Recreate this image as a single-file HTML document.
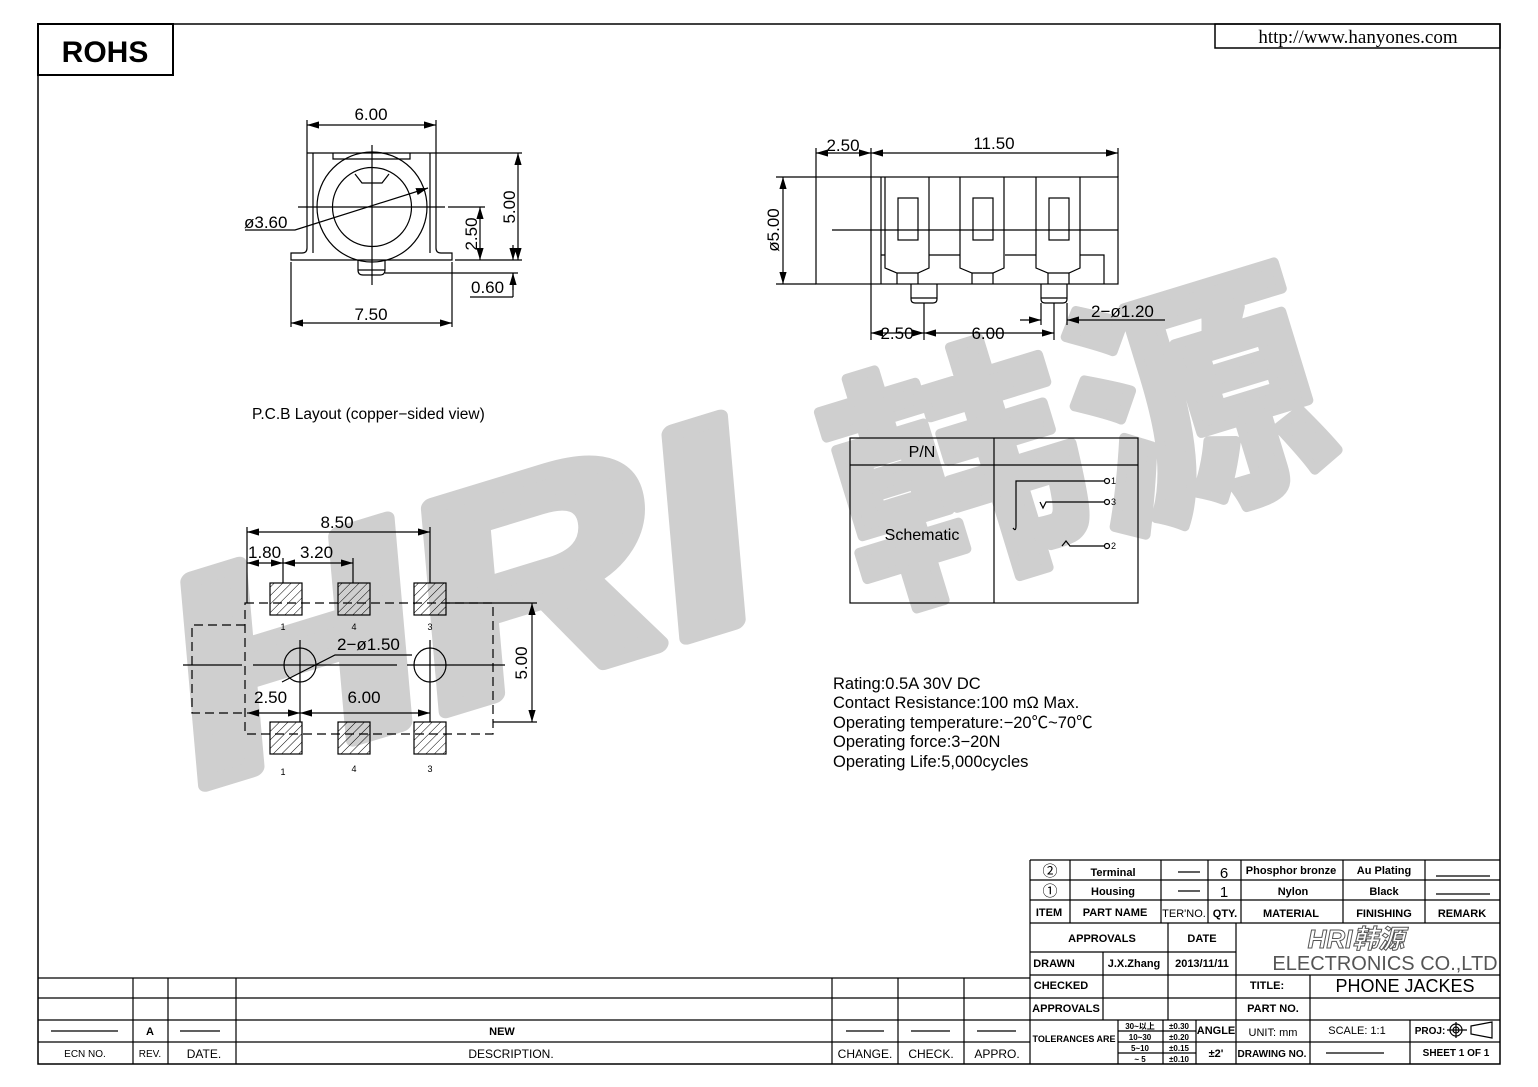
<!DOCTYPE html>
<html><head><meta charset="utf-8"><style>
html,body{margin:0;padding:0;background:#fff}
svg{display:block}
text{font-family:"Liberation Sans","Noto Sans CJK SC",sans-serif;fill:#000}
</style></head><body>
<svg width="1538" height="1087" viewBox="0 0 1538 1087" xmlns="http://www.w3.org/2000/svg">
<defs>
<pattern id="h" width="6" height="6" patternUnits="userSpaceOnUse" patternTransform="rotate(45)">
<line x1="0" y1="0" x2="0" y2="6" stroke="#000" stroke-width="1"/></pattern>
<marker id="a" viewBox="0 0 10 6" refX="10" refY="3" markerWidth="10" markerHeight="6" orient="auto-start-reverse"><path d="M0,0 L10,3 L0,6z" fill="#000"/></marker>
</defs>
<rect width="1538" height="1087" fill="#fff"/>
<g>
<text x="0" y="0" transform="translate(185,790) rotate(-17) skewX(-12)" font-size="290" font-weight="bold" textLength="600" lengthAdjust="spacingAndGlyphs" style="fill:#cfcfcf;stroke:#cfcfcf;stroke-width:16;stroke-linejoin:round">HRI</text>
<text x="0" y="0" transform="translate(865,600) rotate(-17)" font-size="255" font-weight="bold" textLength="500" lengthAdjust="spacingAndGlyphs" style="fill:#cfcfcf;stroke:#cfcfcf;stroke-width:10;stroke-linejoin:round">韩源</text>
</g>
<g stroke="#000" fill="none" stroke-width="1.2">
<rect x="38" y="24" width="1462" height="1040" stroke-width="1.5"/>
<rect x="38" y="24" width="135" height="51" stroke-width="2"/>
<rect x="1215" y="24" width="285" height="24" stroke-width="1.5"/>
<line x1="307" y1="125" x2="436" y2="125" marker-start="url(#a)" marker-end="url(#a)"/>
<line x1="307" y1="120" x2="307" y2="153"/><line x1="436" y1="120" x2="436" y2="153"/>
<path d="M307,153 V248 Q307,253 302,253 H291 V260 H452 V253 H441 Q436,253 436,248 V153 H307"/>
<line x1="313" y1="153" x2="313" y2="253"/><line x1="430" y1="153" x2="430" y2="253"/>
<path d="M333,153 V159 H410 V153"/>
<circle cx="372" cy="207" r="55"/><circle cx="372" cy="207" r="39.5"/>
<path d="M355,174 L362,183 H382 L389,174"/>
<line x1="372" y1="145" x2="372" y2="285"/><line x1="298" y1="207" x2="445" y2="207"/>
<path d="M358,260 V270 Q358,275 363,275 H380 Q385,275 385,270 V260"/><line x1="358" y1="270" x2="385" y2="270"/>
<path d="M245,230 H295 L428,188" marker-end="url(#a)"/>
<line x1="448" y1="207" x2="485" y2="207"/><line x1="455" y1="260" x2="522" y2="260"/>
<line x1="480" y1="207" x2="480" y2="260" marker-start="url(#a)" marker-end="url(#a)"/>
<line x1="436" y1="153" x2="522" y2="153"/>
<line x1="518" y1="153" x2="518" y2="260" marker-start="url(#a)" marker-end="url(#a)"/>
<line x1="385" y1="273" x2="518" y2="273"/>
<line x1="513" y1="245" x2="513" y2="260" marker-end="url(#a)"/><line x1="513" y1="290" x2="513" y2="273" marker-end="url(#a)"/><line x1="513" y1="273" x2="513" y2="297"/>
<line x1="470" y1="297" x2="513" y2="297"/>
<line x1="291" y1="262" x2="291" y2="327"/><line x1="452" y1="262" x2="452" y2="327"/>
<line x1="291" y1="323" x2="452" y2="323" marker-start="url(#a)" marker-end="url(#a)"/>
<line x1="816" y1="148" x2="816" y2="177"/><line x1="871" y1="148" x2="871" y2="177"/><line x1="1118" y1="148" x2="1118" y2="177"/>
<line x1="816" y1="153" x2="871" y2="153" marker-start="url(#a)" marker-end="url(#a)"/>
<line x1="871" y1="153" x2="1118" y2="153" marker-start="url(#a)" marker-end="url(#a)"/>
<rect x="816" y="177" width="302" height="107"/>
<line x1="871" y1="177" x2="871" y2="340"/><line x1="881" y1="177" x2="881" y2="284"/>
<g id="t"><path d="M885,177 V268 L897,273 H918 L929,268 V177"/><line x1="897" y1="273" x2="897" y2="284"/><line x1="918" y1="273" x2="918" y2="284"/><rect x="898" y="198" width="20" height="42"/></g>
<use href="#t" x="75"/><use href="#t" x="151"/>
<path d="M881,255 H885 M929,255 H960 M1005,255 H1036 M1080,255 H1104 V284"/>
<line x1="832" y1="230" x2="1118" y2="230"/>
<line x1="776" y1="177" x2="816" y2="177"/><line x1="776" y1="284" x2="816" y2="284"/>
<line x1="783" y1="177" x2="783" y2="284" marker-start="url(#a)" marker-end="url(#a)"/>
<path d="M911,284 V299 Q911,303 915,303 H933 Q937,303 937,299 V284"/><line x1="911" y1="298" x2="937" y2="298"/>
<path d="M1041,284 V299 Q1041,303 1045,303 H1063 Q1067,303 1067,299 V284"/><line x1="1041" y1="298" x2="1067" y2="298"/>
<line x1="924" y1="303" x2="924" y2="340"/><line x1="1054" y1="303" x2="1054" y2="340"/>
<line x1="1041" y1="303" x2="1041" y2="325"/><line x1="1067" y1="303" x2="1067" y2="325"/>
<line x1="1020" y1="320" x2="1041" y2="320" marker-end="url(#a)"/><line x1="1090" y1="320" x2="1067" y2="320" marker-end="url(#a)"/><line x1="1090" y1="320" x2="1165" y2="320"/>
<line x1="871" y1="333" x2="924" y2="333" marker-start="url(#a)" marker-end="url(#a)"/>
<line x1="924" y1="333" x2="1054" y2="333" marker-start="url(#a)" marker-end="url(#a)"/>
<line x1="247" y1="527" x2="247" y2="603"/><line x1="430" y1="527" x2="430" y2="583"/>
<line x1="247" y1="532" x2="430" y2="532" marker-start="url(#a)" marker-end="url(#a)"/>
<line x1="283" y1="558" x2="283" y2="583"/><line x1="353" y1="558" x2="353" y2="583"/>
<line x1="247" y1="563" x2="283" y2="563" marker-start="url(#a)" marker-end="url(#a)"/>
<line x1="283" y1="563" x2="353" y2="563" marker-start="url(#a)" marker-end="url(#a)"/>
<path d="M245,603 H493 V734 H245 Z M245,625 H192 V713 H245" stroke-dasharray="9,5"/>
<g fill="url(#h)">
<rect x="270" y="583" width="32" height="32"/><rect x="338" y="583" width="32" height="32"/><rect x="414" y="583" width="32" height="32"/>
<rect x="270" y="722" width="32" height="32"/><rect x="338" y="722" width="32" height="32"/><rect x="414" y="722" width="32" height="32"/>
</g>
<ellipse cx="300" cy="665" rx="16" ry="17"/><ellipse cx="430" cy="665" rx="16" ry="17"/>
<path d="M183,665 H242 M253,665 H397 M407,665 H505" />
<line x1="300" y1="640" x2="300" y2="722"/><line x1="430" y1="640" x2="430" y2="722"/>
<path d="M282,682 L335,655 H412"/>
<line x1="247" y1="713" x2="300" y2="713" marker-start="url(#a)" marker-end="url(#a)"/>
<line x1="300" y1="713" x2="430" y2="713" marker-start="url(#a)" marker-end="url(#a)"/>
<line x1="446" y1="603" x2="537" y2="603"/><line x1="493" y1="722" x2="537" y2="722"/>
<line x1="532" y1="603" x2="532" y2="722" marker-start="url(#a)" marker-end="url(#a)"/>
<rect x="850" y="438" width="288" height="165"/>
<line x1="850" y1="465" x2="1138" y2="465"/><line x1="994" y1="438" x2="994" y2="603"/>
<path d="M1013,528 Q1016,532 1016,526 V481 H1104"/><circle cx="1107" cy="481" r="2.5"/>
<path d="M1040,502 L1043,508 L1046,502 H1104"/><circle cx="1107" cy="502" r="2.5"/>
<path d="M1062,546 L1066,541 L1070,546 H1104"/><circle cx="1107" cy="546" r="2.5"/>
<path d="M38,978 H1030 M38,998 H1030 M38,1020 H1030 M38,1042 H1030"/>
<path d="M133,978 V1064 M168,978 V1064 M236,978 V1064 M832,978 V1064 M898,978 V1064 M964,978 V1064 M1030,860 V1064"/>
<path d="M51,1031 H118 M180,1031 H220 M846,1031 H884 M911,1031 H950 M977,1031 H1016"/>
<path d="M1030,860 H1500 M1030,880 H1500 M1030,900 H1500 M1030,923 H1500"/>
<path d="M1070,860 V923 M1161,860 V923 M1208,860 V923 M1241,860 V923 M1343,860 V923 M1425,860 V923"/>
<path d="M1178,872 H1200 M1178,891 H1200 M1436,876 H1490 M1436,894 H1490"/>
<path d="M1030,952 H1236 M1030,975 H1500 M1030,998 H1500 M1030,1020 H1500"/>
<path d="M1103,952 V1020 M1168,923 V1020 M1236,923 V1064 M1310,975 V1064 M1118,1020 V1064 M1163,1020 V1064 M1196,1020 V1064 M1410,1020 V1064"/>
<path d="M1118,1031 H1196 M1118,1042 H1196 M1118,1053 H1196 M1196,1042 H1500"/>
<path d="M1326,1053 H1384"/>
<circle cx="1456" cy="1030" r="6"/><circle cx="1456" cy="1030" r="3"/><path d="M1447,1030 H1467 M1456,1022 V1038 M1471,1026 L1492,1022 V1038 L1471,1034 Z"/>
</g>
<text x="105" y="62" font-size="30" font-weight="bold" text-anchor="middle">ROHS</text>
<text x="1358" y="43" font-size="19" text-anchor="middle" style="font-family:'Liberation Serif',serif">http://www.hanyones.com</text>
<g font-size="17">
<text x="371" y="120" text-anchor="middle">6.00</text>
<text x="244" y="228">ø3.60</text>
<text transform="translate(477,234) rotate(-90)" text-anchor="middle">2.50</text>
<text transform="translate(515,207) rotate(-90)" text-anchor="middle">5.00</text>
<text x="471" y="293">0.60</text>
<text x="371" y="320" text-anchor="middle">7.50</text>
<text x="843" y="151" text-anchor="middle">2.50</text>
<text x="994" y="149" text-anchor="middle">11.50</text>
<text transform="translate(779,230) rotate(-90)" text-anchor="middle">ø5.00</text>
<text x="1091" y="317">2−ø1.20</text>
<text x="897" y="339" text-anchor="middle">2.50</text>
<text x="988" y="339" text-anchor="middle">6.00</text>
<text x="337" y="528" text-anchor="middle">8.50</text>
<text x="248" y="558">1.80</text><text x="300" y="558">3.20</text>
<text x="337" y="650">2−ø1.50</text>
<text x="254" y="703">2.50</text><text x="364" y="703" text-anchor="middle">6.00</text>
<text transform="translate(527,663) rotate(-90)" text-anchor="middle">5.00</text>
</g>
<text x="252" y="419" font-size="15.5">P.C.B  Layout  (copper−sided  view)</text>
<g font-size="9" text-anchor="middle"><text x="283" y="630">1</text><text x="354" y="630">4</text><text x="430" y="630">3</text><text x="283" y="775">1</text><text x="354" y="772">4</text><text x="430" y="772">3</text></g>
<text x="922" y="457" font-size="16" text-anchor="middle">P/N</text>
<text x="922" y="540" font-size="16" text-anchor="middle">Schematic</text>
<g font-size="9"><text x="1111" y="484">1</text><text x="1111" y="505">3</text><text x="1111" y="549">2</text></g>
<g font-size="16.5"><text x="833" y="689">Rating:0.5A  30V  DC</text>
<text x="833" y="708">Contact  Resistance:100  mΩ  Max.</text>
<text x="833" y="728">Operating  temperature:−20℃~70℃</text>
<text x="833" y="747">Operating  force:3−20N</text>
<text x="833" y="767">Operating  Life:5,000cycles</text></g>
<g font-size="11" text-anchor="middle">
<text x="150" y="1035" font-weight="bold">A</text><text x="502" y="1035" font-weight="bold">NEW</text>
<text x="85" y="1057" font-size="10">ECN NO.</text><text x="150" y="1057" font-size="10">REV.</text><text x="204" y="1058" font-size="12">DATE.</text><text x="511" y="1058" font-size="12">DESCRIPTION.</text><text x="865" y="1058" font-size="12">CHANGE.</text><text x="931" y="1058" font-size="12">CHECK.</text><text x="997" y="1058" font-size="12">APPRO.</text>
</g>
<g font-size="11" text-anchor="middle" font-weight="bold">
<text x="1050" y="876" font-size="15" font-weight="normal">②</text><text x="1113" y="876">Terminal</text><text x="1224" y="878" font-size="15" font-weight="normal">6</text><text x="1291" y="874">Phosphor bronze</text><text x="1384" y="874">Au Plating</text>
<text x="1050" y="896" font-size="15" font-weight="normal">①</text><text x="1113" y="895">Housing</text><text x="1224" y="897" font-size="15" font-weight="normal">1</text><text x="1293" y="895">Nylon</text><text x="1384" y="895">Black</text>
<text x="1049" y="916">ITEM</text><text x="1115" y="916">PART NAME</text><text x="1184" y="917" font-weight="normal">TER'NO.</text><text x="1225" y="917">QTY.</text><text x="1291" y="917">MATERIAL</text><text x="1384" y="917">FINISHING</text><text x="1462" y="917">REMARK</text>
<text x="1102" y="942">APPROVALS</text><text x="1202" y="942">DATE</text>
<text x="1054" y="967">DRAWN</text><text x="1134" y="967">J.X.Zhang</text><text x="1202" y="967">2013/11/11</text>
<text x="1061" y="989">CHECKED</text><text x="1066" y="1012">APPROVALS</text>
<text x="1267" y="989">TITLE:</text><text x="1273" y="1012">PART NO.</text>
<text x="1074" y="1042" font-size="9">TOLERANCES ARE</text>
<text x="1140" y="1029" font-size="8">30~以上</text><text x="1140" y="1040" font-size="8">10~30</text><text x="1140" y="1051" font-size="8">5~10</text><text x="1140" y="1062" font-size="8">~ 5</text>
<text x="1179" y="1029" font-size="8">±0.30</text><text x="1179" y="1040" font-size="8">±0.20</text><text x="1179" y="1051" font-size="8">±0.15</text><text x="1179" y="1062" font-size="8">±0.10</text>
<text x="1216" y="1034">ANGLE</text><text x="1216" y="1057">±2'</text>
<text x="1273" y="1036" font-weight="normal">UNIT: mm</text><text x="1357" y="1034" font-weight="normal">SCALE:   1:1</text><text x="1430" y="1034" font-size="10">PROJ:</text>
<text x="1272" y="1057" font-size="10">DRAWING NO.</text><text x="1456" y="1056" font-size="10">SHEET   1  OF  1</text>
</g>
<text x="1356" y="948" font-size="26" font-weight="bold" font-style="italic" text-anchor="middle" style="fill:#fff;stroke:#555;stroke-width:1">HRI韩源</text>
<text x="1385" y="970" font-size="20" text-anchor="middle" style="fill:#555">ELECTRONICS  CO.,LTD</text>
<text x="1405" y="992" font-size="18" text-anchor="middle">PHONE  JACKES</text>
</svg>
</body></html>
